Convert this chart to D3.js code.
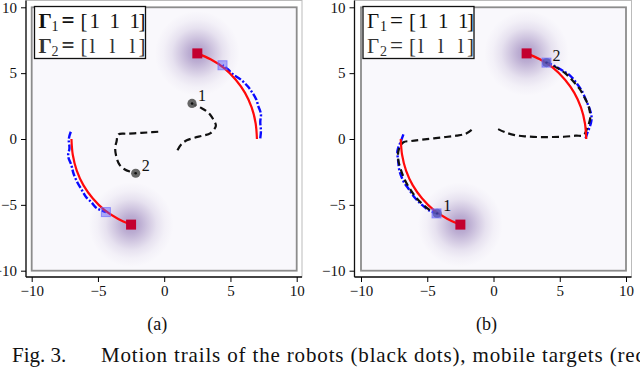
<!DOCTYPE html>
<html>
<head>
<meta charset="utf-8">
<script src="https://cdn.jsdelivr.net/npm/d3@7"></script>
<style>
  body { margin: 0; background: #fff; }
  svg text { font-family: "Liberation Serif", "Times New Roman", serif; fill: #111; }
</style>
</head>
<body>
<svg id="fig" width="640" height="367"></svg>
<script>
// --- data (plot units) ---
const tickValues = [-10, -5, 0, 5, 10];
const targetsEnd = [[2.5, 6.5], [-2.5, -6.5]];

// target trails (red)
const redUpper = [[7, 0], [6.9, 1.2], [6.6, 2.4], [6.1, 3.5], [5.4, 4.5], [4.5, 5.4], [3.5, 6.05], [2.5, 6.5]];
const redLower = [[-7, 0], [-6.9, -1.2], [-6.6, -2.4], [-6.1, -3.5], [-5.4, -4.5], [-4.5, -5.4], [-3.5, -6.05], [-2.5, -6.5]];

// estimated target trails (blue)
const blueUpperA = [[7.25, 0.05], [7.3, 0.6], [7.25, 1.3], [7.3, 1.9], [7.1, 2.5], [6.95, 3.0], [6.6, 3.6], [6.3, 4.0], [5.8, 4.5], [5.2, 4.9], [4.8, 5.3], [4.4, 5.6]];
const blueLowerA = [[-7.05, 0.55], [-7.2, 0.0], [-7.15, -0.7], [-7.25, -1.3], [-7.0, -2.0], [-6.85, -2.6], [-6.55, -3.3], [-6.2, -3.9], [-5.9, -4.4], [-5.5, -4.8], [-5.1, -5.25], [-4.8, -5.4], [-4.4, -5.55]];
const blueUpperB = [[6.95, 0.05], [7.1, 0.5], [7.35, 1.2], [7.4, 1.7], [7.25, 2.3], [7.0, 2.9], [6.7, 3.6], [6.3, 4.2], [5.8, 4.8], [5.2, 5.2], [4.6, 5.55], [4.0, 5.8]];
const blueLowerB = [[-6.8, 0.35], [-7.0, -0.2], [-7.25, -0.9], [-7.2, -1.6], [-7.1, -2.4], [-6.8, -3.2], [-6.4, -3.8], [-5.9, -4.5], [-5.4, -5.0], [-4.9, -5.4], [-4.3, -5.65]];

// robot trails (black)
const robot1A = [[1.0, -0.85], [1.3, -0.4], [1.7, -0.1], [2.3, 0.1], [2.9, 0.25], [3.5, 0.45], [3.9, 1.0], [3.75, 1.4], [3.5, 1.8], [3.2, 2.1], [2.8, 2.35], [2.4, 2.55], [2.1, 2.7]];
const robot2A = [[-0.45, 0.55], [-1.2, 0.5], [-2.0, 0.45], [-2.8, 0.4], [-3.45, 0.35], [-3.6, -0.2], [-3.7, -0.7], [-3.6, -1.4], [-3.4, -1.9], [-3.0, -2.3], [-2.5, -2.5], [-2.15, -2.6]];
const robot1B = [[-1.65, 0.7], [-2.1, 0.4], [-2.8, 0.25], [-3.6, 0.15], [-4.5, 0.05], [-5.4, -0.05], [-6.2, -0.15], [-6.8, -0.25], [-7.15, -0.8], [-7.2, -1.5], [-7.0, -2.3], [-6.7, -3.1], [-6.3, -3.8], [-5.8, -4.5], [-5.3, -5.0], [-4.8, -5.4], [-4.25, -5.65]];
const robot2B = [[0.35, 0.75], [0.9, 0.5], [1.6, 0.3], [2.4, 0.2], [3.3, 0.15], [4.3, 0.15], [5.3, 0.17], [6.2, 0.25], [6.8, 0.3], [7.1, 0.9], [7.3, 1.6], [7.2, 2.4], [6.9, 3.1], [6.5, 3.8], [6.0, 4.4], [5.4, 5.0], [4.8, 5.4], [4.0, 5.8]];

const panels = [
    {
        left: 31.7, right: 296.7, spineX: 26, outerRight: 302, label: "(a)", boldGamma: true,
        blue: [blueUpperA, blueLowerA], robots: [robot1A, robot2A], names: ["1", "2"],
        estEnds: [[4.4, 5.6], [-4.4, -5.55]], robotOnEst: false
    },
    {
        left: 361, right: 626, spineX: 354.5, outerRight: 631.5, label: "(b)", boldGamma: false,
        blue: [blueUpperB, blueLowerB], robots: [robot1B, robot2B], names: ["1", "2"],
        estEnds: [[4.0, 5.8], [-4.3, -5.65]], robotOnEst: true
    }
];

const svg = d3.select("#fig");
const defs = svg.append("defs");

// gaussian-ish blob
const grad = defs.append("radialGradient").attr("id", "blob");
[[0, 0.6], [0.2, 0.5], [0.4, 0.32], [0.6, 0.15], [0.8, 0.05], [1, 0]].forEach(([o, a]) => {
    grad.append("stop").attr("offset", o).attr("stop-color", "#7e62a8").attr("stop-opacity", a);
});

const plotTop = 7.3, plotBottom = 270.7, spineY = 277;

panels.forEach((p, pi) => {
    const x = d3.scaleLinear().domain([-10, 10]).range([p.left, p.right]);
    const y = d3.scaleLinear().domain([-10, 10]).range([plotBottom, plotTop]);
    const g = svg.append("g");
    const line = d3.line().x(d => x(d[0])).y(d => y(d[1])).curve(d3.curveCatmullRom);

    const clipId = "clip" + pi;
    defs.append("clipPath").attr("id", clipId).append("rect")
        .attr("x", p.left).attr("y", plotTop).attr("width", p.right - p.left).attr("height", plotBottom - plotTop);

    // outer light frame
    g.append("rect").attr("x", p.spineX).attr("y", 0.5)
        .attr("width", p.outerRight - p.spineX).attr("height", spineY - 0.5)
        .attr("fill", "none").attr("stroke", "#bbb").attr("stroke-width", 1);

    // heatmap background
    g.append("rect").attr("x", p.left).attr("y", plotTop)
        .attr("width", p.right - p.left).attr("height", plotBottom - plotTop)
        .attr("fill", "#f9f8fc");

    const inner = g.append("g").attr("clip-path", `url(#${clipId})`);
    inner.selectAll(".blob").data(targetsEnd).join("circle")
        .attr("cx", d => x(d[0])).attr("cy", d => y(d[1]))
        .attr("r", x(3.2) - x(0)).attr("fill", "url(#blob)");

    // frame of the image
    g.append("rect").attr("x", p.left).attr("y", plotTop)
        .attr("width", p.right - p.left).attr("height", plotBottom - plotTop)
        .attr("fill", "none").attr("stroke", "#8c8c8c").attr("stroke-width", 1.8);

    // axes
    const ax = g.append("g").attr("transform", `translate(0,${spineY})`)
        .call(d3.axisBottom(x).tickValues(tickValues).tickSize(5).tickPadding(3))
        .attr("font-family", null).attr("font-size", null);
    ax.select(".domain").attr("d", `M${p.spineX},0H${p.outerRight}`).attr("stroke", "#111").attr("stroke-width", 1.3);
    ax.selectAll("text").style("font-size", "15px");
    const ay = g.append("g").attr("transform", `translate(${p.spineX},0)`)
        .call(d3.axisLeft(y).tickValues(tickValues).tickSize(5).tickPadding(4))
        .attr("font-family", null).attr("font-size", null);
    ay.select(".domain").attr("d", `M0,0.5V${spineY}`).attr("stroke", "#111").attr("stroke-width", 1.3);
    ay.selectAll("text").style("font-size", "15px");

    // blue estimated trails
    inner.selectAll(".blue").data(p.blue).join("path")
        .attr("d", line).attr("fill", "none").attr("stroke", "#0a0aff")
        .attr("stroke-width", 2.4).attr("stroke-dasharray", "7,2,2,2");

    // robot trails
    inner.selectAll(".robot").data(p.robots).join("path")
        .attr("d", line).attr("fill", "none").attr("stroke", "#111")
        .attr("stroke-width", 2.2).attr("stroke-dasharray", "7,4");

    // red target trails
    inner.selectAll(".red").data([redUpper, redLower]).join("path")
        .attr("d", line).attr("fill", "none").attr("stroke", "#ff0a0a").attr("stroke-width", 2.2);

    // robot markers
    const ends = p.robots.map(r => r[r.length - 1]);
    inner.selectAll(".rm").data(ends).join("circle")
        .attr("cx", d => x(d[0])).attr("cy", d => y(d[1])).attr("r", 4.6)
        .attr("fill", "#555").attr("opacity", p.robotOnEst ? 0.8 : 0.9);
    inner.selectAll(".rc").data(ends).join("circle")
        .attr("cx", d => x(d[0])).attr("cy", d => y(d[1])).attr("r", 1.2).attr("fill", "#111");

    // estimated target markers
    inner.selectAll(".bs").data(p.estEnds).join("rect")
        .attr("x", d => x(d[0]) - 4.5).attr("y", d => y(d[1]) - 4.5)
        .attr("width", 9).attr("height", 9)
        .attr("fill", "#5a5aff").attr("fill-opacity", p.robotOnEst ? 0.55 : 0.45)
        .attr("stroke", "#6f6fff").attr("stroke-opacity", 0.7).attr("stroke-width", 1);

    // target markers
    inner.selectAll(".rs").data(targetsEnd).join("rect")
        .attr("x", d => x(d[0]) - 5).attr("y", d => y(d[1]) - 5)
        .attr("width", 10).attr("height", 10).attr("fill", "#c3002f");

    // robot labels
    g.selectAll(".rl").data(ends).join("text")
        .attr("x", d => x(d[0]) + 6).attr("y", d => y(d[1]) - 2)
        .style("font-size", "16px").text((d, i) => p.names[i]);

    // legend
    const lx = p.spineX + 8.5;
    const lg = g.append("g").attr("transform", `translate(${lx},6.5)`);
    lg.append("rect").attr("width", 111).attr("height", 52)
        .attr("fill", "#fff").attr("stroke", "#111").attr("stroke-width", 1.3);
    const rows = [
        { base: 21, sub: "1", vals: "1", col: "#111" },
        { base: 46, sub: "2", vals: "l", col: "#333" }
    ];
    rows.forEach(r => {
        const t = lg.append("text").attr("y", r.base).style("font-size", "21px").style("fill", r.col);
        t.append("tspan").attr("x", 4).style("font-weight", p.boldGamma ? "bold" : "normal").text("Γ");
        t.append("tspan").attr("x", 17).attr("dy", 3).style("font-size", "14px").text(r.sub);
        t.append("tspan").attr("x", 27).attr("dy", -3).style("font-size", "23px")
            .style("font-weight", p.boldGamma ? "bold" : "normal").text("=");
        t.append("tspan").attr("x", 46).text("[");
        [55, 75, 95].forEach(vx => {
            t.append("tspan").attr("x", vx).text(r.vals);
        });
        t.append("tspan").attr("x", 104).text("]");
    });

    // sub-caption
    svg.append("text").attr("x", (p.left + p.right) / 2 - 7).attr("y", 330)
        .attr("text-anchor", "middle").style("font-size", "18px").text(p.label);
});

// caption
svg.append("text").attr("x", 12).attr("y", 362).style("font-size", "21px").text("Fig. 3.");
svg.append("text").attr("x", 101).attr("y", 362).style("font-size", "21px")
    .attr("textLength", 545).attr("lengthAdjust", "spacing")
    .text("Motion trails of the robots (black dots), mobile targets (red");
</script>
</body>
</html>
